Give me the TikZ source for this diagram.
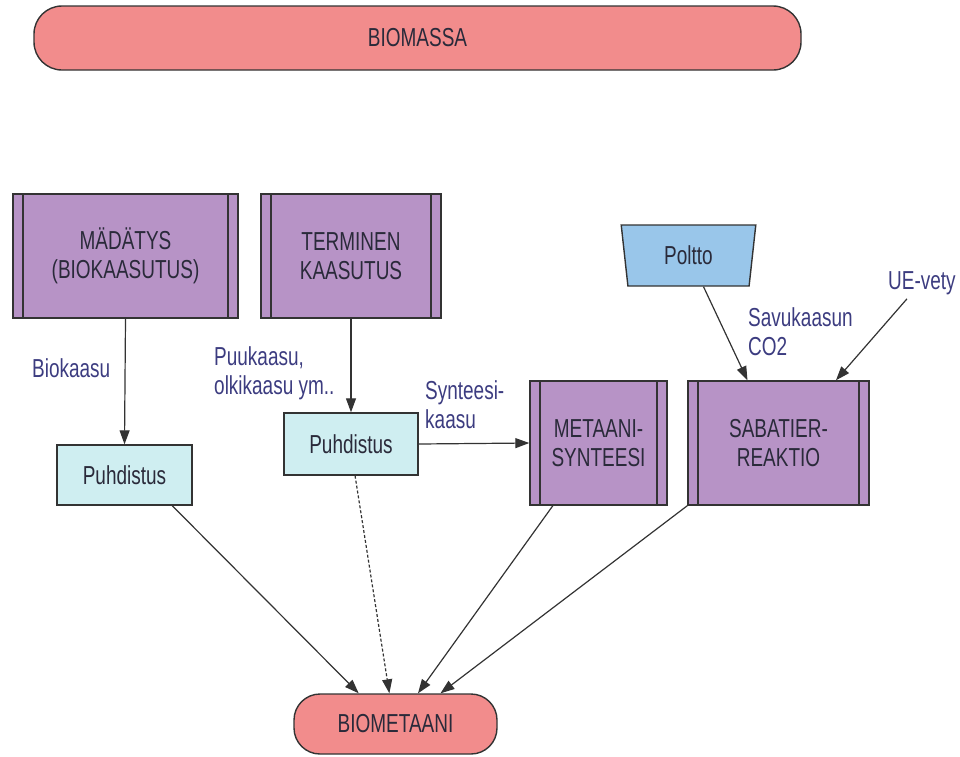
\documentclass[tikz,border=0pt]{standalone}
\usepackage{fontspec}
\setmainfont[FakeStretch=0.73]{Liberation Sans}
\usetikzlibrary{shapes.geometric,arrows.meta,calc}
\definecolor{pinkfill}{HTML}{F28C8C}
\definecolor{purplefill}{HTML}{B793C6}
\definecolor{cyanfill}{HTML}{CFEEF1}
\definecolor{bluefill}{HTML}{99C6EA}
\definecolor{edgecol}{HTML}{333333}
\definecolor{labelcol}{HTML}{3C3C80}
\definecolor{textcol}{HTML}{2A2A3A}
\begin{document}
\begin{tikzpicture}[x=1pt,y=-1pt,
  every node/.style={font=\fontsize{26}{29}\selectfont, text=textcol},
  terminal/.style={draw=edgecol, line width=1.4pt, fill=pinkfill, rounded corners=28pt, inner sep=0pt},
  procbox/.style={draw=edgecol, line width=1.4pt, fill=purplefill, inner sep=0pt, align=center,
    path picture={
      \draw[edgecol, line width=1.2pt] ([xshift=10pt]path picture bounding box.north west) -- ([xshift=10pt]path picture bounding box.south west);
      \draw[edgecol, line width=1.2pt] ([xshift=-10pt]path picture bounding box.north east) -- ([xshift=-10pt]path picture bounding box.south east);
    }},
  cleanbox/.style={draw=edgecol, line width=1.4pt, fill=cyanfill, inner sep=0pt},
  flowlabel/.style={text=labelcol, anchor=west, align=left, inner sep=0pt},
  conn/.style={draw=edgecol, line width=1.2pt, -{Triangle[length=14pt,width=10pt]}}
]
\useasboundingbox (0,0) rectangle (960,756);

\node[terminal, minimum width=767pt, minimum height=64pt] (biomassa) at (417.5,38) {BIOMASSA};

\node[procbox, minimum width=225pt, minimum height=124pt] (madatys) at (125.5,256) {MÄDÄTYS\\(BIOKAASUTUS)};
\node[procbox, minimum width=180pt, minimum height=124pt] (terminen) at (351,256) {TERMINEN\\KAASUTUS};

\node[cleanbox, minimum width=135pt, minimum height=60pt] (puh1) at (124.5,475) {Puhdistus};
\node[cleanbox, minimum width=134pt, minimum height=62pt] (puh2) at (351,444) {Puhdistus};

\node[procbox, minimum width=137pt, minimum height=124pt] (metaani) at (598.5,443) {METAANI-\\SYNTEESI};
\node[procbox, minimum width=181pt, minimum height=124pt] (sabatier) at (778.5,443) {SABATIER-\\REAKTIO};

\node[trapezium, trapezium stretches=true, trapezium angle=82, shape border rotate=180,
  draw=edgecol, line width=1.4pt, fill=bluefill, minimum width=135pt, minimum height=61pt, inner sep=0pt] (poltto) at (688.5,255.5) {Poltto};

\node[terminal, minimum width=203pt, minimum height=60pt, rounded corners=26pt] (biometaani) at (395.5,724) {BIOMETAANI};

% labels
\node[flowlabel] (lbio) at (32,368) {Biokaasu};
\node[flowlabel] (lpuu) at (214,373) {Puukaasu,\\olkikaasu ym..};
\node[flowlabel] (lsyn) at (425,405) {Synteesi-\\kaasu};
\node[flowlabel] (lsav) at (748,332) {Savukaasun\\CO2};
\node[flowlabel] (lue) at (888,283) {UE-vety};

% connectors
\draw[conn] (madatys.south) -- (puh1.north);
\draw[conn] (terminen.south) -- (puh2.north);
\draw[conn] (puh2.east) -- (metaani.west);
\draw[conn] ($(poltto.south)+(15,0)$) -- ($(sabatier.north west)!0.33!(sabatier.north east)$);
\draw[conn] ($(lue.south)+(-15,4)$) -- ($(sabatier.north west)!0.815!(sabatier.north east)$);
\draw[conn] ($(puh1.south west)!0.85!(puh1.south east)$) -- ($(biometaani.north west)!0.32!(biometaani.north east)$);
\draw[conn, densely dashed] ($(puh2.south west)!0.53!(puh2.south east)$) -- ($(biometaani.north west)!0.47!(biometaani.north east)$);
\draw[conn] ($(metaani.south west)!0.17!(metaani.south east)$) -- ($(biometaani.north west)!0.61!(biometaani.north east)$);
\draw[conn] (sabatier.south west) -- ($(biometaani.north west)!0.72!(biometaani.north east)$);
\end{tikzpicture}
\end{document}
